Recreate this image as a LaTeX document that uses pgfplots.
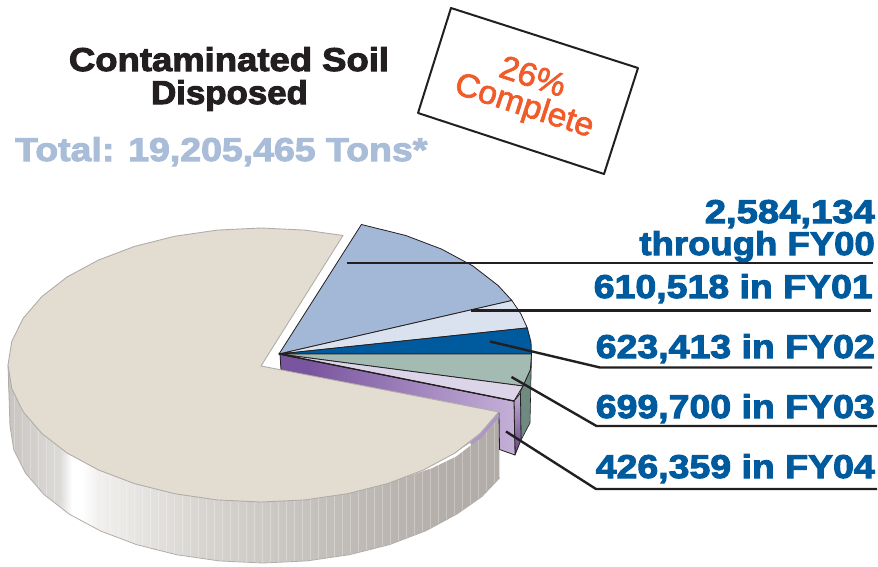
\documentclass[border=0pt]{standalone}
\usepackage{fontspec}
\usepackage{pgfplots}
\pgfplotsset{compat=1.18}
\newfontfamily\hv[FakeBold=3,FakeStretch=1.135]{Liberation Sans Bold}
\newfontfamily\hvt[FakeBold=3,FakeStretch=1.105]{Liberation Sans Bold}
\newfontfamily\hvd[FakeBold=3,FakeStretch=1.055]{Liberation Sans Bold}
\newfontfamily\hvl[FakeBold=3,FakeStretch=1.135]{Liberation Sans Bold}
\newfontfamily\hvo[FakeStretch=1.02,FakeBold=2]{Liberation Sans}
\definecolor{navy}{HTML}{005A9E}
\definecolor{ltot}{HTML}{A9BDD9}
\definecolor{orng}{HTML}{F15A29}
\definecolor{lead}{HTML}{231F20}
\definecolor{wA}{HTML}{C8C5C1}\definecolor{wB}{HTML}{DDDBD8}\definecolor{wC}{HTML}{F0EFED}\definecolor{wD}{HTML}{D8D5D1}\definecolor{wE}{HTML}{C2BEBA}\definecolor{wF}{HTML}{B3AEA9}\definecolor{wG}{HTML}{B1ACA7}\definecolor{wW}{HTML}{FFFFFF}
\definecolor{pdark}{HTML}{7A559F}\definecolor{plite}{HTML}{C4B0D8}
\definecolor{HTMLg}{HTML}{6F8A80}\definecolor{fyA}{HTML}{A3B8D6}\definecolor{fyB}{HTML}{DBE2EF}\definecolor{fyD}{HTML}{A3BBB3}\definecolor{fyE}{HTML}{DCD5E9}\definecolor{beigeT}{HTML}{E3DDD1}
\pgfdeclarehorizontalshading{wallsh}{100bp}{color(0bp)=(wA);color(25bp)=(wA);color(30.3bp)=(wB);color(31.5bp)=(wW);color(32.5bp)=(wW);color(34.3bp)=(wC);color(44.5bp)=(wD);color(57.7bp)=(wE);color(69.8bp)=(wF);color(75bp)=(wG);color(100bp)=(wG)}
\pgfdeclarehorizontalshading{pursh}{100bp}{color(0bp)=(pdark);color(31bp)=(pdark);color(75bp)=(plite);color(100bp)=(plite)}
\begin{document}
\begin{tikzpicture}
\path[use as bounding box] (0,0) rectangle (878pt,566pt);
\begin{axis}[at={(0,0)},anchor=south west,scale only axis,width=878pt,height=566pt,
 xmin=0,xmax=878,ymin=0,ymax=566,y dir=reverse,hide axis,clip=false,
 unbounded coords=jump,every axis plot/.append style={no markers,line join=round}]
% side wall of the large slice
\addplot[draw=none,shading=wallsh] coordinates {(8,365)(10,426)(13.8,449.8)(25.3,472.9)(43.9,494.5)(69.2,514.1)(100.4,530.9)(136.5,544.6)(176.5,554.7)(219.1,560.9)(263,563)(306.9,560.9)(349.5,554.7)(389.5,544.6)(425.6,530.9)(456.8,514.1)(482,496.5)(499.5,478)(499,412)} -- cycle;
% light stripes on the wall
\addplot[draw=white,opacity=0.28,line width=1pt] coordinates {
(14,385)(14,566)(14,nan)(22,385)(22,566)(22,nan)(30,385)(30,566)(30,nan)(38,385)(38,566)(38,nan)(46,385)(46,566)(46,nan)(54,385)(54,566)(54,nan)
(102,385)(102,566)(102,nan)(110,385)(110,566)(110,nan)(118,385)(118,566)(118,nan)(126,385)(126,566)(126,nan)(134,385)(134,566)(134,nan)(142,385)(142,566)(142,nan)
(150,385)(150,566)(150,nan)(158,385)(158,566)(158,nan)(166,385)(166,566)(166,nan)(174,385)(174,566)(174,nan)(182,385)(182,566)(182,nan)(190,385)(190,566)(190,nan)
(198,385)(198,566)(198,nan)(206,385)(206,566)(206,nan)(214,385)(214,566)(214,nan)(222,385)(222,566)(222,nan)(230,385)(230,566)(230,nan)(238,385)(238,566)(238,nan)
(246,385)(246,566)(246,nan)(254,415)(254,566)(254,nan)(262,415)(262,566)(262,nan)(270,415)(270,566)(270,nan)(278,415)(278,566)(278,nan)(286,415)(286,566)(286,nan)
(294,415)(294,566)(294,nan)(302,415)(302,566)(302,nan)(310,415)(310,566)(310,nan)(318,415)(318,566)(318,nan)(326,415)(326,566)(326,nan)(334,415)(334,566)(334,nan)
(342,415)(342,566)(342,nan)(350,415)(350,566)(350,nan)(358,415)(358,566)(358,nan)(366,415)(366,566)(366,nan)(374,415)(374,566)(374,nan)(382,415)(382,566)(382,nan)
(390,415)(390,566)(390,nan)(398,415)(398,566)(398,nan)(406,415)(406,566)(406,nan)(414,415)(414,566)(414,nan)(422,415)(422,566)(422,nan)(430,415)(430,566)(430,nan)
(438,415)(438,566)(438,nan)(446,415)(446,566)(446,nan)(454,415)(454,566)(454,nan)(462,415)(462,566)(462,nan)(470,415)(470,566)(470,nan)(478,415)(478,566)(478,nan)
(486,415)(486,566)(486,nan)(494,415)(494,566)};
% white mask under the wall
\addplot[draw=none,fill=white] coordinates {(0,426)(10,426)(13.8,449.8)(25.3,472.9)(43.9,494.5)(69.2,514.1)(100.4,530.9)(136.5,544.6)(176.5,554.7)(219.1,560.9)(263,563)(306.9,560.9)(349.5,554.7)(389.5,544.6)(425.6,530.9)(456.8,514.1)(482,496.5)(499.5,478)(506,566)(0,566)} -- cycle;
% wall outline
\addplot[draw=wG,line width=0.8pt] coordinates {(8,365)(10,426)(13.8,449.8)(25.3,472.9)(43.9,494.5)(69.2,514.1)(100.4,530.9)(136.5,544.6)(176.5,554.7)(219.1,560.9)(263,563)(306.9,560.9)(349.5,554.7)(389.5,544.6)(425.6,530.9)(456.8,514.1)(482,496.5)(499.5,478)};
% outer wall of FY03
\addplot[draw=lead,line width=0.6pt,fill=HTMLg] coordinates {(531.5,354)(530,423)(521,440)(520,393)(523,386)(530.4,369.5)} -- cycle;
% end of the FY04 wedge
\addplot[draw=lead,line width=0.8pt,top color=plite,bottom color=pdark!80!black] coordinates {(514,401)(520.5,393)(521,440)(515,455)} -- cycle;
% cut face of the FY04 wedge
\addplot[draw=lead,line width=0.8pt,shading=pursh] coordinates {(280,354)(514,401)(515,455)(499.5,449.5)(499,413)(281,370)} -- cycle;
% top faces of the five slices
\addplot[draw=lead,line width=0.8pt,fill=fyA] coordinates {(279,354)(361.4,224.5)(405.5,235.4)(441.6,249.1)(472.8,265.9)(498.1,285.5)(511.9,300.5)} -- cycle;
\addplot[draw=lead,line width=0.8pt,fill=fyB] coordinates {(279,354)(511.9,300.5)(520.9,313.9)(527.3,327.9)} -- cycle;
\addplot[draw=lead,line width=0.8pt,fill=navy] coordinates {(279,354)(527.3,327.9)(531,342.1)(531.5,354)} -- cycle;
\addplot[draw=lead,line width=0.8pt,fill=fyD] coordinates {(279,354)(531.5,354)(530.4,369.5)(523,386)} -- cycle;
\addplot[draw=lead,line width=0.8pt,fill=fyE] coordinates {(279,354)(523,386)(514,401)} -- cycle;
\addplot[draw=lead,line width=1.3pt] coordinates {(279,354)(514,401)};
% slivers beside the rim
\addplot[draw=none,fill=plite!70!pdark] coordinates {(499,413)(480.1,433.5)(470,443)(471,445)(481,438)(499,417)} -- cycle;
\addplot[draw=none,fill=white] coordinates {(470,443)(454.8,453.1)(423.6,469.9)(408,476)(432,468)(456,456.5)(471,445)} -- cycle;
% top face of the large slice
\addplot[draw=wG,line width=0.9pt,fill=beigeT] coordinates {(261,366)(498.7,411.9)(480.1,433.5)(454.8,453.1)(423.6,469.9)(387.5,483.6)(347.5,493.7)(304.9,499.9)(261,502)(217.1,499.9)(174.5,493.7)(134.5,483.6)(98.4,469.9)(67.2,453.1)(41.9,433.5)(23.3,411.9)(11.8,388.8)(8,365)(11.8,341.2)(23.3,318.1)(41.9,296.5)(67.2,276.9)(98.4,260.1)(134.5,246.4)(174.5,236.3)(217.1,230.1)(261,228)(304.9,230.1)(343,235.5)} -- cycle;
% leader lines
\addplot[draw=lead,line width=2.4pt] coordinates {(347,263)(873,263)};
\addplot[draw=lead,line width=2.4pt] coordinates {(471,310.5)(871,310.5)};
\addplot[draw=lead,line width=2.4pt] coordinates {(490,341.5)(600,367.5)(872,367.5)};
\addplot[draw=lead,line width=2.4pt] coordinates {(511.5,377)(596.5,426)(877,426)};
\addplot[draw=lead,line width=2.4pt] coordinates {(506,431.5)(596,489)(877,489)};
% texts
\node[anchor=base,font=\hvt\fontsize{33}{33}\selectfont,text=lead] at (axis cs:229,71) {Contaminated Soil};
\node[anchor=base,font=\hvd\fontsize{33}{33}\selectfont,text=lead] at (axis cs:229.5,104) {Disposed};
\node[anchor=base west,font=\hvl\fontsize{33}{33}\selectfont,text=ltot,inner sep=0pt] at (axis cs:15,161) {Total: 19,205,465 Tons*};
\node[anchor=base east,font=\hv\fontsize{33}{33}\selectfont,text=navy,inner sep=0pt] at (axis cs:875,223) {\scalebox{1.02}[1]{2,584,134}};
\node[anchor=base east,font=\hv\fontsize{33}{33}\selectfont,text=navy,inner sep=0pt] at (axis cs:875,255) {\scalebox{0.975}[1]{through FY00}};
\node[anchor=base east,font=\hv\fontsize{33}{33}\selectfont,text=navy,inner sep=0pt] at (axis cs:873,298) {610,518 in FY01};
\node[anchor=base east,font=\hv\fontsize{33}{33}\selectfont,text=navy,inner sep=0pt] at (axis cs:875,358) {623,413 in FY02};
\node[anchor=base east,font=\hv\fontsize{33}{33}\selectfont,text=navy,inner sep=0pt] at (axis cs:875,418) {699,700 in FY03};
\node[anchor=base east,font=\hv\fontsize{33}{33}\selectfont,text=navy,inner sep=0pt] at (axis cs:875,478) {426,359 in FY04};
% rotated box
\addplot[draw=lead,line width=2pt,fill=white] coordinates {(451,8)(638,68)(604,174)(418,113)} -- cycle;
\node[rotate=-18,font=\hvo\fontsize{33}{33}\selectfont,text=orng,inner sep=0pt] at (axis cs:533,76) {26\%};
\node[rotate=-18,font=\hvo\fontsize{33}{33}\selectfont,text=orng,inner sep=0pt] at (axis cs:524,107) {Complete};
\end{axis}
\end{tikzpicture}
\end{document}
